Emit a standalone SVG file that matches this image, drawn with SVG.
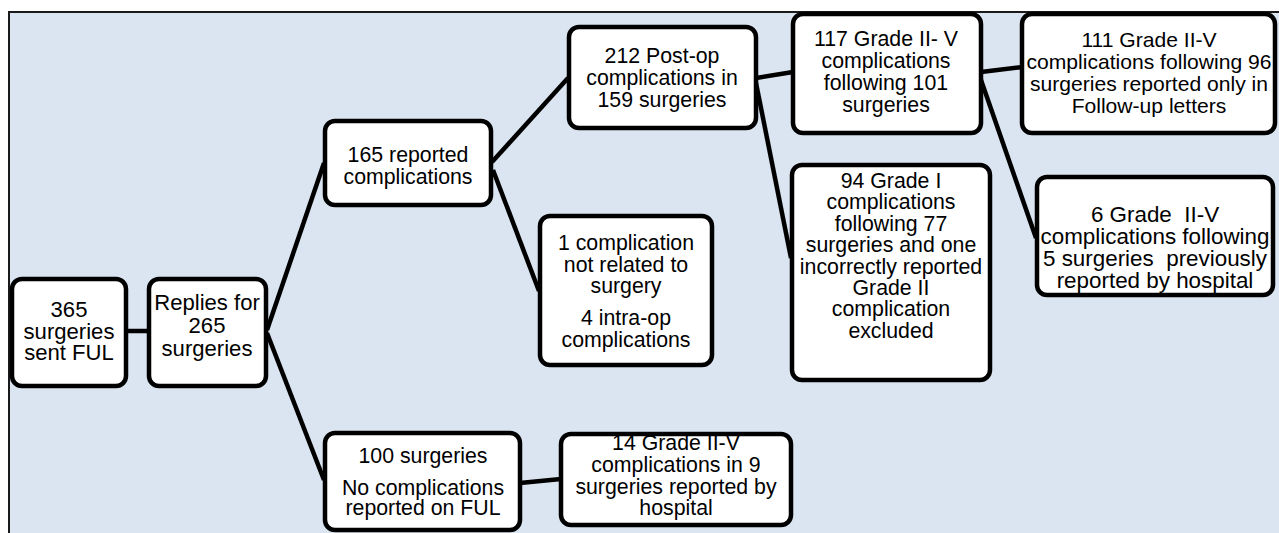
<svg xmlns="http://www.w3.org/2000/svg" width="1279" height="533" viewBox="0 0 1279 533">
  <style>
    .box { fill: #ffffff; stroke: #000000; stroke-width: 4.5; }
    .link { stroke: #000000; stroke-width: 4.5; fill: none; stroke-linecap: butt; }
    text { font-family: "Liberation Sans", Arial, sans-serif; font-size: 21.3px; fill: #000000; text-anchor: middle; white-space: pre; }
    .mid { font-size: 22.1px; }
    .big { font-size: 22.4px; }
    .fit { font-size: 21.1px; }
  </style>

  <!-- panel background -->
  <rect x="9" y="12" width="1280" height="530" fill="#dbe5f1" stroke="#1a1a1a" stroke-width="2"/>

  <!-- connectors -->
  <g id="connectors">
    <line class="link" x1="126" y1="331" x2="150" y2="331"/>
    <line class="link" x1="267" y1="330" x2="324" y2="163"/>
    <line class="link" x1="267" y1="333" x2="324" y2="480"/>
    <line class="link" x1="492" y1="162" x2="568" y2="78"/>
    <line class="link" x1="493" y1="170" x2="539" y2="291"/>
    <line class="link" x1="520" y1="483" x2="561" y2="479"/>
    <line class="link" x1="756" y1="78" x2="793" y2="72"/>
    <line class="link" x1="756" y1="83" x2="791" y2="258"/>
    <line class="link" x1="981" y1="72" x2="1023" y2="67"/>
    <line class="link" x1="981" y1="80" x2="1036" y2="238"/>
  </g>

  <g id="n-sent">
    <rect class="box" x="12" y="279" width="114" height="107" rx="10"/>
    <text class="mid" x="69" y="317">365</text>
    <text class="mid" x="69" y="338.5">surgeries</text>
    <text class="mid" x="69" y="360">sent FUL</text>
  </g>

  <g id="n-replies">
    <rect class="box" x="149" y="279" width="117" height="107" rx="10"/>
    <text class="mid" x="207" y="310">Replies for</text>
    <text class="mid" x="207" y="333">265</text>
    <text class="mid" x="207" y="356">surgeries</text>
  </g>

  <g id="n-reported">
    <rect class="box" x="325" y="121" width="166" height="84" rx="10"/>
    <text x="408" y="162">165 reported</text>
    <text x="408" y="184">complications</text>
  </g>

  <g id="n-excluded-intraop">
    <rect class="box" x="540" y="216" width="172" height="149" rx="10"/>
    <text x="626" y="250">1 complication</text>
    <text x="626" y="272">not related to</text>
    <text x="626" y="293">surgery</text>
    <text x="626" y="325">4 intra-op</text>
    <text x="626" y="347">complications</text>
  </g>

  <g id="n-none">
    <rect class="box" x="325" y="433" width="195" height="97" rx="10"/>
    <text x="423" y="463">100 surgeries</text>
    <text x="423" y="495">No complications</text>
    <text x="423" y="515">reported on FUL</text>
  </g>

  <g id="n-hospital-only">
    <rect class="box" x="561" y="434" width="230" height="91" rx="10"/>
    <text x="676" y="450">14 Grade II-V</text>
    <text x="676" y="472">complications in 9</text>
    <text x="676" y="494">surgeries reported by</text>
    <text x="676" y="515">hospital</text>
  </g>

  <g id="n-postop">
    <rect class="box" x="569" y="27" width="187" height="101" rx="10"/>
    <text x="662" y="63">212 Post-op</text>
    <text x="662" y="85">complications in</text>
    <text x="662" y="107">159 surgeries</text>
  </g>

  <g id="n-grade2to5">
    <rect class="box" x="793" y="14" width="188" height="119" rx="10"/>
    <text x="886" y="46">117 Grade II- V</text>
    <text x="886" y="68">complications</text>
    <text x="886" y="90">following 101</text>
    <text x="886" y="112">surgeries</text>
  </g>

  <g id="n-grade1">
    <rect class="box" x="792" y="165" width="198" height="215" rx="10"/>
    <text x="891" y="188">94 Grade I</text>
    <text x="891" y="209.4">complications</text>
    <text x="891" y="230.8">following 77</text>
    <text x="891" y="252.2">surgeries and one</text>
    <text x="891" y="273.6">incorrectly reported</text>
    <text x="891" y="295">Grade II</text>
    <text x="891" y="316.4">complication</text>
    <text x="891" y="337.8">excluded</text>
  </g>

  <g id="n-ful-only">
    <rect class="box" x="1022" y="14" width="253" height="119" rx="10"/>
    <text class="fit" x="1149" y="47">111 Grade II-V</text>
    <text class="fit" x="1149" y="69">complications following 96</text>
    <text class="fit" x="1149" y="91">surgeries reported only in</text>
    <text class="fit" x="1149" y="113">Follow-up letters</text>
  </g>

  <g id="n-both">
    <rect class="box" x="1037" y="177" width="236" height="118" rx="10"/>
    <text class="big" x="1155" y="222">6 Grade  II-V</text>
    <text class="big" x="1155" y="244">complications following</text>
    <text class="big" x="1155" y="266">5 surgeries  previously</text>
    <text class="big" x="1155" y="288">reported by hospital</text>
  </g>
</svg>
